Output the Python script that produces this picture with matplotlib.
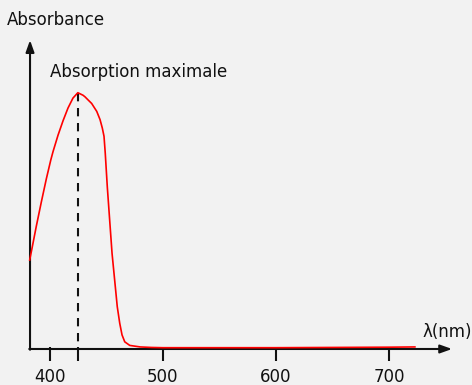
import matplotlib.pyplot as plt
import numpy as np

plt.rcParams['font.family'] = ['DejaVu Sans']

# absorption spectrum (nm, relative absorbance)
wavelength = [382.5, 384.6, 388.3, 392.8, 397.2, 401.1, 403.1, 407.5, 411.9,
              416.3, 420.7, 425.0, 429.6, 431.3, 434.0, 437.2, 441.7, 444.6,
              446.6, 448.1, 449.2, 451.0, 453.1, 455.2, 457.5, 459.8, 462.0,
              464.0, 466.4, 470.8, 480.0, 490.0, 500.0, 550.0, 600.0, 650.0,
              700.0, 722.5]
absorbance = [0.347, 0.394, 0.478, 0.574, 0.664, 0.737, 0.770, 0.834, 0.890,
              0.940, 0.979, 1.000, 0.990, 0.984, 0.972, 0.958, 0.927, 0.895,
              0.862, 0.830, 0.764, 0.633, 0.503, 0.373, 0.269, 0.165, 0.100,
              0.055, 0.028, 0.014, 0.008, 0.006, 0.005, 0.005, 0.005, 0.006,
              0.007, 0.008]

lambda_max = 425
ticks = [400, 425, 500, 600, 700]
tick_labels = ["400", "", "500", "600", "700"]

x_origin = 382.8
x_end = 755.3
y_top = 1.205

bg = "#f2f2f2"
fig = plt.figure(figsize=(4.72, 3.85), dpi=100, facecolor=bg)
ax = fig.add_axes([0, 0, 1, 1])
ax.set_facecolor(bg)
ax.set_xlim(356.3, 772.9)
ax.set_ylim(-0.1405, 1.3617)
ax.axis("off")

# axes with arrow heads
arrow = dict(arrowstyle="-|>,head_length=0.7,head_width=0.25", lw=1.5,
             color="#111111", shrinkA=0, shrinkB=0)
ax.annotate("", xy=(x_end, 0), xytext=(x_origin - 0.7, 0), arrowprops=arrow)
ax.annotate("", xy=(x_origin, y_top), xytext=(x_origin, -0.003), arrowprops=arrow)

# ticks and labels
for t, lab in zip(ticks, tick_labels):
    ax.plot([t, t], [0.009, -0.047], color="#111111", lw=1.5,
            solid_capstyle="butt")
    if lab:
        ax.text(t, -0.108, lab, ha="center", va="center", fontsize=12,
                color="#111111")

# spectrum
ax.plot(wavelength, absorbance, color="#ff0000", lw=1.2, zorder=3,
        solid_joinstyle="round")

# position of the maximum
ax.plot([lambda_max, lambda_max], [1.0, 0], color="#111111", lw=1.5,
        linestyle=(0, (4, 3.2)), zorder=2)

ax.text(x_origin - 20.5, 1.283, "Absorbance", ha="left", va="center",
        fontsize=12, color="#111111")
ax.text(400.5, 1.079, "Absorption maximale", ha="left", va="center",
        fontsize=12, color="#111111")
ax.text(729.5, 0.067, "λ(nm)", ha="left", va="center", fontsize=12,
        color="#111111")

fig.savefig("out.png", dpi=100, facecolor=bg)
